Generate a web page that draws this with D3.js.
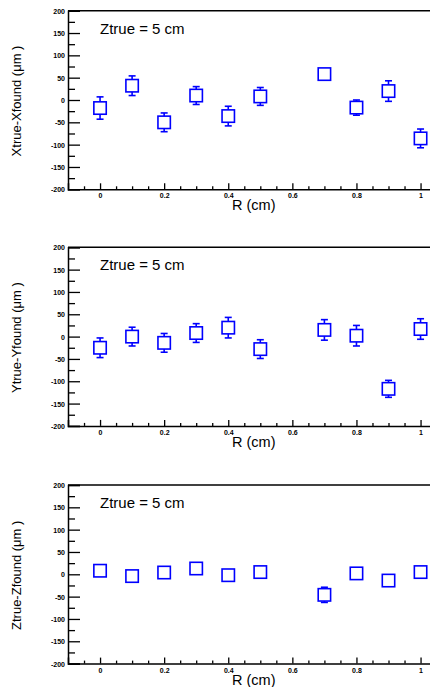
<!DOCTYPE html>
<html>
<head>
<meta charset="utf-8">
<script src="https://cdn.jsdelivr.net/npm/d3@7"></script>
<style>
    body { margin: 0; background: #fff; }
    svg { display: block; font-family: "Liberation Sans", Arial, sans-serif; }
</style>
</head>
<body>
<svg id="chart" width="430" height="687"></svg>
<script>
// Radial positions (cm)
const rValues = [0, 0.1, 0.2, 0.3, 0.4, 0.5, 0.7, 0.8, 0.9, 1.0];

// Residuals (um) and their errors, one pair per panel
const dxValues = [-18, 32, -50, 10, -36, 8, 58, -17, 20, -86];
const dxErrors = [25, 22, 21, 20, 22, 20, 6, 17, 23, 21];

const dyValues = [-25, 0, -14, 8, 20, -28, 15, 2, -117, 17];
const dyErrors = [22, 21, 21, 21, 23, 21, 23, 23, 19, 23];

const dzValues = [8, -4, 4, 13, -2, 5, -46, 2, -14, 5];
const dzErrors = [3, 3, 3, 3, 3, 3, 17, 3, 3, 3];

const yTitles = ["Xtrue-Xfound (μm )", "Ytrue-Yfound (μm )", "Ztrue-Zfound (μm )"];
const panelLabel = "Ztrue = 5 cm";
const xTitle = "R (cm)";

const xMajorTicks = [0, 0.2, 0.4, 0.6, 0.8, 1.0];
const yMajorTicks = [-200, -150, -100, -50, 0, 50, 100, 150, 200];

// Layout
const axisLeft = 68;
const panelTops = [10.7, 247.3, 485];
const panelHeight = 178.6;
const markerSize = 12.4;
const blue = "#0000ff";

const svg = d3.select("#chart");

// x extends past the right edge of the picture (cropped like the original)
const x = d3.scaleLinear()
    .domain([-0.1, 1.1])
    .range([axisLeft, axisLeft + 1.2 * 320.5]);

const xMinorTicks = d3.range(-0.05, 1.1, 0.05).filter(t => Math.abs(t * 5 - Math.round(t * 5)) > 1e-6);
const yMinorTicks = d3.range(-175, 200, 50);

function drawPanel(top, values, errors, title) {
    const y = d3.scaleLinear()
        .domain([-200, 200])
        .range([top + panelHeight, top]);

    const g = svg.append("g");

    // Top frame line
    g.append("line")
        .attr("x1", axisLeft).attr("x2", 430)
        .attr("y1", top).attr("y2", top)
        .attr("stroke", "#000").attr("stroke-width", 1.5);

    // Y axis: major ticks with labels, minor ticks between
    const yAxis = g.append("g")
        .attr("transform", `translate(${axisLeft},0)`)
        .call(d3.axisLeft(y).tickValues(yMajorTicks).tickSize(-12).tickPadding(3)
            .tickFormat(d => String(d)));
    g.append("g")
        .attr("transform", `translate(${axisLeft},0)`)
        .call(d3.axisLeft(y).tickValues(yMinorTicks).tickSize(-7).tickFormat(""))
        .call(a => a.select(".domain").remove());

    // X axis
    const xAxis = g.append("g")
        .attr("transform", `translate(0,${top + panelHeight})`)
        .call(d3.axisBottom(x).tickValues(xMajorTicks).tickSize(-6).tickPadding(4)
            .tickFormat(d3.format("~g")));
    g.append("g")
        .attr("transform", `translate(0,${top + panelHeight})`)
        .call(d3.axisBottom(x).tickValues(xMinorTicks).tickSize(-3).tickFormat(""))
        .call(a => a.select(".domain").remove());

    g.selectAll(".domain").attr("stroke-width", 1.5);
    g.selectAll(".tick line").attr("stroke-width", 1.3);
    yAxis.selectAll("text")
        .attr("font-size", 7).attr("font-weight", "bold").attr("dy", "0.35em");
    xAxis.selectAll("text")
        .attr("font-size", 7).attr("font-weight", "bold").attr("dy", "0.71em");

    // Panel label
    g.append("text")
        .attr("x", 100)
        .attr("y", top + 23)
        .attr("font-size", 15)
        .text(panelLabel);

    // Axis titles
    g.append("text")
        .attr("x", 232)
        .attr("y", top + panelHeight + 21)
        .attr("font-size", 14.5)
        .text(xTitle);

    g.append("text")
        .attr("transform", `translate(21,${top + panelHeight / 2 + 1}) rotate(-90)`)
        .attr("text-anchor", "middle")
        .attr("font-size", 13)
        .text(title);

    // Error bars with caps, then open square markers on top
    const points = g.selectAll(".point")
        .data(rValues.map((r, i) => ({ r, v: values[i], e: errors[i] })))
        .enter()
        .append("g")
        .attr("class", "point");

    points.append("line")
        .attr("x1", d => x(d.r)).attr("x2", d => x(d.r))
        .attr("y1", d => y(d.v + d.e)).attr("y2", d => y(d.v - d.e))
        .attr("stroke", blue).attr("stroke-width", 1.6);

    [1, -1].forEach(sign => {
        points.append("line")
            .attr("x1", d => x(d.r) - 3.5).attr("x2", d => x(d.r) + 3.5)
            .attr("y1", d => y(d.v + sign * d.e)).attr("y2", d => y(d.v + sign * d.e))
            .attr("stroke", blue).attr("stroke-width", 1.6);
    });

    points.append("rect")
        .attr("x", d => x(d.r) - markerSize / 2)
        .attr("y", d => y(d.v) - markerSize / 2)
        .attr("width", markerSize)
        .attr("height", markerSize)
        .attr("fill", "#fff")
        .attr("stroke", blue)
        .attr("stroke-width", 1.6);
}

drawPanel(panelTops[0], dxValues, dxErrors, yTitles[0]);
drawPanel(panelTops[1], dyValues, dyErrors, yTitles[1]);
drawPanel(panelTops[2], dzValues, dzErrors, yTitles[2]);
</script>
</body>
</html>
